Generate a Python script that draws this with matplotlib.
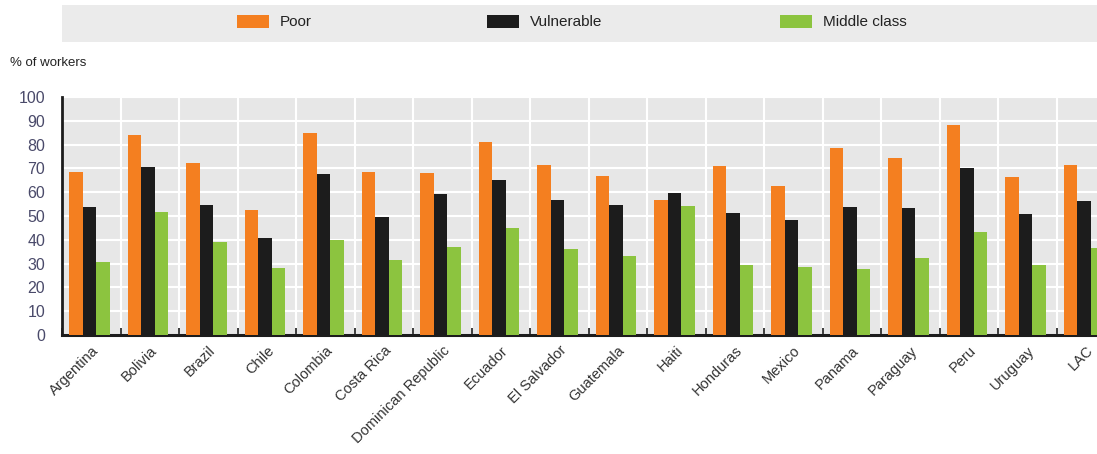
import matplotlib
matplotlib.use("Agg")
import matplotlib.pyplot as plt
from matplotlib.patches import Rectangle
import numpy as np

plt.rcParams['font.family'] = ['Liberation Sans Narrow', 'Liberation Sans', 'DejaVu Sans']

countries = ["Argentina", "Bolivia", "Brazil", "Chile", "Colombia", "Costa Rica",
             "Dominican Republic", "Ecuador", "El Salvador", "Guatemala", "Haiti",
             "Honduras", "Mexico", "Panama", "Paraguay", "Peru", "Uruguay", "LAC"]
poor = [68.4, 84.0, 72.3, 52.5, 85.0, 68.6, 67.9, 81.0, 71.4, 66.8, 56.7,
        71.1, 62.6, 78.4, 74.2, 88.2, 66.3, 71.4]
vulnerable = [53.8, 70.7, 54.8, 40.8, 67.6, 49.7, 59.1, 65.1, 56.7, 54.6, 59.5,
              51.1, 48.3, 53.7, 53.4, 70.0, 50.8, 56.4]
middle = [30.8, 51.7, 38.9, 28.0, 40.0, 31.5, 37.1, 45.1, 36.0, 33.3, 54.2,
          29.4, 28.7, 27.7, 32.5, 43.1, 29.4, 36.4]
series_names = ["Poor", "Vulnerable", "Middle class"]
colors = ["#f47f20", "#1c1c1c", "#8cc43f"]
yticks = list(range(0, 101, 10))

W, H = 1097, 454
fig = plt.figure(figsize=(W / 100, H / 100), dpi=100)

# legend band
fig.patches.append(Rectangle((62 / W, 1 - 42 / H), 1 - 62 / W, 37 / H,
                             transform=fig.transFigure, facecolor="#ebebeb",
                             edgecolor="none", zorder=0))
leg_x = [237, 487, 780]
for name, c, lx in zip(series_names, colors, leg_x):
    fig.patches.append(Rectangle((lx / W, 1 - 28 / H), 32 / W, 13 / H,
                                 transform=fig.transFigure, facecolor=c,
                                 edgecolor="none", zorder=1))
    fig.text((lx + 43) / W, 1 - 21.5 / H, name, fontsize=11, va="center",
             ha="left", color="#222222")

fig.text(10 / W, 1 - 63 / H, "% of workers", fontsize=9.5, va="center",
         ha="left", color="#222222")

ax = fig.add_axes([62 / W, 1 - 335 / H, 1053 / W, 238 / H])
ax.set_facecolor("#e7e7e7")

x = np.arange(len(countries))
bw = 0.233
for i, (vals, c) in enumerate(zip([poor, vulnerable, middle], colors)):
    ax.bar(x + (i - 1) * bw - 0.03, vals, width=bw, color=c, zorder=3)

ax.set_xlim(-0.5, len(countries) - 0.5)
ax.set_ylim(0, 100)
ax.set_yticks(yticks)
ax.set_yticklabels([str(t) for t in yticks], fontsize=11.5, color="#4a4a6a")
ax.set_xticks(x)
ax.set_xticklabels(countries, rotation=45, ha="right", rotation_mode="anchor",
                   fontsize=10.5, color="#333333")
ax.tick_params(axis="x", length=0, pad=6)
ax.tick_params(axis="y", length=0, pad=12)
ax.set_xticks(np.arange(-0.5, len(countries), 1.0), minor=True)
ax.tick_params(axis="x", which="minor", direction="in", length=5, width=1.2,
               color="#1c1c1c")

ax.grid(axis="y", color="white", linewidth=1.5, zorder=1)
ax.grid(axis="x", which="minor", color="white", linewidth=1.5, zorder=1)
ax.grid(axis="x", which="major", visible=False)
ax.set_axisbelow(True)

for s in ["top", "right"]:
    ax.spines[s].set_visible(False)
ax.spines["left"].set_linewidth(2)
ax.spines["bottom"].set_linewidth(2.2)
ax.spines["left"].set_color("#1c1c1c")
ax.spines["bottom"].set_color("#1c1c1c")

fig.savefig("out.png", dpi=100)
